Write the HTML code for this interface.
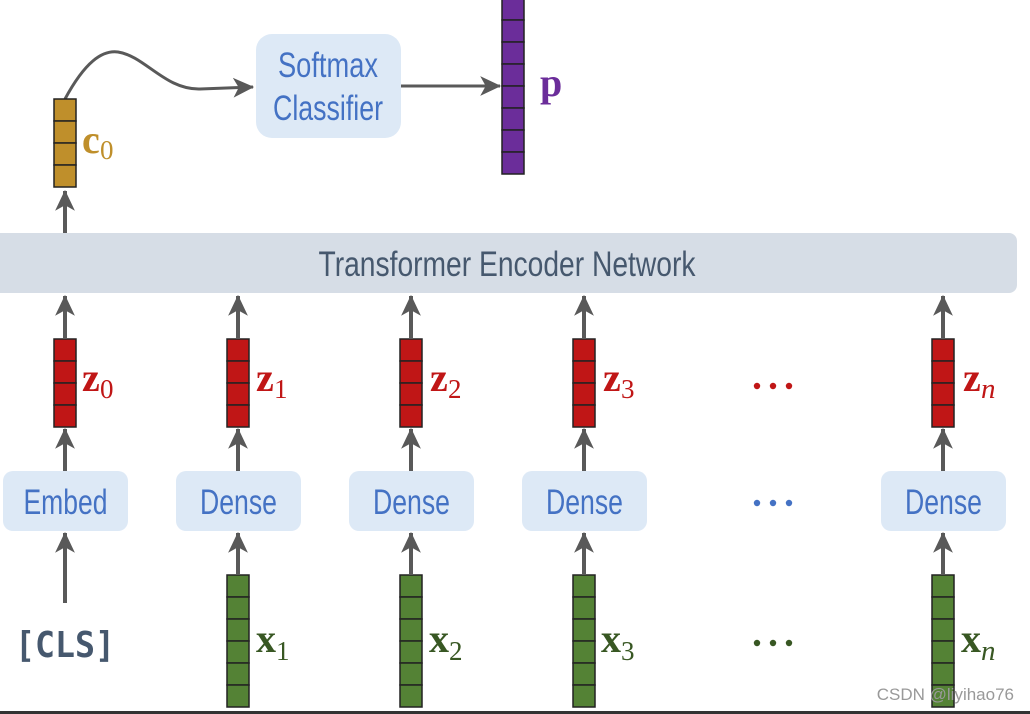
<!DOCTYPE html>
<html><head><meta charset="utf-8"><style>
html,body{margin:0;padding:0;background:#fff;}
svg{display:block;}
.lab{font-family:"Liberation Sans Narrow","Liberation Sans",sans-serif;fill:#4472c4;font-size:35px;}
.m{font-family:"Liberation Serif",serif;font-weight:bold;font-size:40px;}
.s{font-family:"Liberation Serif",serif;font-size:27px;}
.si{font-family:"Liberation Serif",serif;font-style:italic;font-size:29px;}
</style></head><body>
<svg width="1030" height="714" viewBox="0 0 1030 714" xmlns="http://www.w3.org/2000/svg">
<defs>
<marker id="ah" viewBox="0 0 20 20" refX="18" refY="10" markerWidth="22" markerHeight="22" markerUnits="userSpaceOnUse" orient="auto">
<path d="M0,1 L19,10 L0,19 L5,10 Z" fill="#595959"/>
</marker>
</defs>
<g stroke="#595959" stroke-width="4" fill="none" marker-end="url(#ah)">
<line x1="65" y1="233" x2="65" y2="191"/>
<path d="M65,99 C85,62 102,50 118,52 C145,56 165,90 200,89 L253,87" stroke-width="3"/>
<line x1="401" y1="86" x2="500" y2="86" stroke-width="3"/>
<line x1="65" y1="338" x2="65" y2="296"/>
<line x1="238" y1="338" x2="238" y2="296"/>
<line x1="411" y1="338" x2="411" y2="296"/>
<line x1="584" y1="338" x2="584" y2="296"/>
<line x1="943" y1="338" x2="943" y2="296"/>
<line x1="65" y1="471" x2="65" y2="429"/>
<line x1="238" y1="471" x2="238" y2="429"/>
<line x1="411" y1="471" x2="411" y2="429"/>
<line x1="584" y1="471" x2="584" y2="429"/>
<line x1="943" y1="471" x2="943" y2="429"/>
<line x1="65" y1="603" x2="65" y2="533"/>
<line x1="238" y1="574" x2="238" y2="533"/>
<line x1="411" y1="574" x2="411" y2="533"/>
<line x1="584" y1="574" x2="584" y2="533"/>
<line x1="943" y1="574" x2="943" y2="533"/>
</g>

<rect x="256" y="34" width="145" height="104" rx="16" fill="#dde9f6"/>
<text class="lab" x="328" y="77" text-anchor="middle" textLength="100" lengthAdjust="spacingAndGlyphs">Softmax</text>
<text class="lab" x="328" y="120" text-anchor="middle" textLength="110" lengthAdjust="spacingAndGlyphs">Classifier</text>

<rect x="-10" y="233" width="1027" height="60" rx="8" fill="#d6dde6"/>
<text x="507" y="276" text-anchor="middle" font-family="Liberation Sans Narrow,Liberation Sans,sans-serif" font-size="35" fill="#46586e" textLength="377" lengthAdjust="spacingAndGlyphs">Transformer Encoder Network</text>

<g stroke="#222" stroke-width="1.5" fill="#bf8f2b">
<rect x="54" y="99" width="22" height="22"/><rect x="54" y="121" width="22" height="22"/><rect x="54" y="143" width="22" height="22"/><rect x="54" y="165" width="22" height="22"/>
</g>
<text class="m" x="82" y="153" fill="#bf8f2b">c</text><text class="s" x="100" y="159" fill="#bf8f2b">0</text>

<g stroke="#222" stroke-width="1.5" fill="#6b2d9a">
<rect x="502" y="-2" width="22" height="22"/><rect x="502" y="20" width="22" height="22"/><rect x="502" y="42" width="22" height="22"/><rect x="502" y="64" width="22" height="22"/><rect x="502" y="86" width="22" height="22"/><rect x="502" y="108" width="22" height="22"/><rect x="502" y="130" width="22" height="22"/><rect x="502" y="152" width="22" height="22"/>
</g>
<text class="m" x="540" y="96" fill="#6b2d9a">p</text>

<g stroke="#222" stroke-width="1.5" fill="#c01616">
<rect x="54" y="339" width="22" height="22"/><rect x="54" y="361" width="22" height="22"/><rect x="54" y="383" width="22" height="22"/><rect x="54" y="405" width="22" height="22"/>
<rect x="227" y="339" width="22" height="22"/><rect x="227" y="361" width="22" height="22"/><rect x="227" y="383" width="22" height="22"/><rect x="227" y="405" width="22" height="22"/>
<rect x="400" y="339" width="22" height="22"/><rect x="400" y="361" width="22" height="22"/><rect x="400" y="383" width="22" height="22"/><rect x="400" y="405" width="22" height="22"/>
<rect x="573" y="339" width="22" height="22"/><rect x="573" y="361" width="22" height="22"/><rect x="573" y="383" width="22" height="22"/><rect x="573" y="405" width="22" height="22"/>
<rect x="932" y="339" width="22" height="22"/><rect x="932" y="361" width="22" height="22"/><rect x="932" y="383" width="22" height="22"/><rect x="932" y="405" width="22" height="22"/>
</g>
<g fill="#c01616">
<text class="m" x="82" y="391">z</text><text class="s" x="100" y="398">0</text>
<text class="m" x="256" y="391">z</text><text class="s" x="274" y="398">1</text>
<text class="m" x="430" y="391">z</text><text class="s" x="448" y="398">2</text>
<text class="m" x="603" y="391">z</text><text class="s" x="621" y="398">3</text>
<text class="m" x="963" y="391">z</text><text class="si" x="981" y="398">n</text>
<circle cx="757" cy="386" r="3.2"/><circle cx="773" cy="386" r="3.2"/><circle cx="789" cy="386" r="3.2"/>
</g>

<g fill="#dde9f6">
<rect x="3" y="471" width="125" height="60" rx="10"/>
<rect x="176" y="471" width="125" height="60" rx="10"/>
<rect x="349" y="471" width="125" height="60" rx="10"/>
<rect x="522" y="471" width="125" height="60" rx="10"/>
<rect x="881" y="471" width="125" height="60" rx="10"/>
</g>
<text class="lab" x="65.5" y="514" text-anchor="middle" textLength="84" lengthAdjust="spacingAndGlyphs">Embed</text>
<text class="lab" x="238.5" y="514" text-anchor="middle" textLength="77" lengthAdjust="spacingAndGlyphs">Dense</text>
<text class="lab" x="411.5" y="514" text-anchor="middle" textLength="77" lengthAdjust="spacingAndGlyphs">Dense</text>
<text class="lab" x="584.5" y="514" text-anchor="middle" textLength="77" lengthAdjust="spacingAndGlyphs">Dense</text>
<text class="lab" x="943.5" y="514" text-anchor="middle" textLength="77" lengthAdjust="spacingAndGlyphs">Dense</text>
<g fill="#4472c4"><circle cx="757" cy="503" r="3.2"/><circle cx="773" cy="503" r="3.2"/><circle cx="789" cy="503" r="3.2"/></g>

<text x="65" y="657" text-anchor="middle" font-family="DejaVu Sans Mono,Liberation Mono,monospace" font-weight="bold" font-size="36" fill="#46586e" textLength="100" lengthAdjust="spacingAndGlyphs">[CLS]</text>

<g stroke="#222" stroke-width="1.5" fill="#548235">
<rect x="227" y="575" width="22" height="22"/><rect x="227" y="597" width="22" height="22"/><rect x="227" y="619" width="22" height="22"/><rect x="227" y="641" width="22" height="22"/><rect x="227" y="663" width="22" height="22"/><rect x="227" y="685" width="22" height="22"/>
<rect x="400" y="575" width="22" height="22"/><rect x="400" y="597" width="22" height="22"/><rect x="400" y="619" width="22" height="22"/><rect x="400" y="641" width="22" height="22"/><rect x="400" y="663" width="22" height="22"/><rect x="400" y="685" width="22" height="22"/>
<rect x="573" y="575" width="22" height="22"/><rect x="573" y="597" width="22" height="22"/><rect x="573" y="619" width="22" height="22"/><rect x="573" y="641" width="22" height="22"/><rect x="573" y="663" width="22" height="22"/><rect x="573" y="685" width="22" height="22"/>
<rect x="932" y="575" width="22" height="22"/><rect x="932" y="597" width="22" height="22"/><rect x="932" y="619" width="22" height="22"/><rect x="932" y="641" width="22" height="22"/><rect x="932" y="663" width="22" height="22"/><rect x="932" y="685" width="22" height="22"/>
</g>
<g fill="#385723">
<text class="m" x="256" y="652">x</text><text class="s" x="276" y="660">1</text>
<text class="m" x="429" y="652">x</text><text class="s" x="449" y="660">2</text>
<text class="m" x="601" y="652">x</text><text class="s" x="621" y="660">3</text>
<text class="m" x="961" y="652">x</text><text class="si" x="981" y="660">n</text>
<circle cx="757" cy="643" r="3.2"/><circle cx="773" cy="643" r="3.2"/><circle cx="789" cy="643" r="3.2"/>
</g>

<rect x="0" y="711" width="1030" height="3" fill="#333"/>
<text x="1014" y="700" text-anchor="end" font-family="Liberation Sans,sans-serif" font-size="17" fill="#999">CSDN @liyihao76</text>
</svg>
</body></html>
